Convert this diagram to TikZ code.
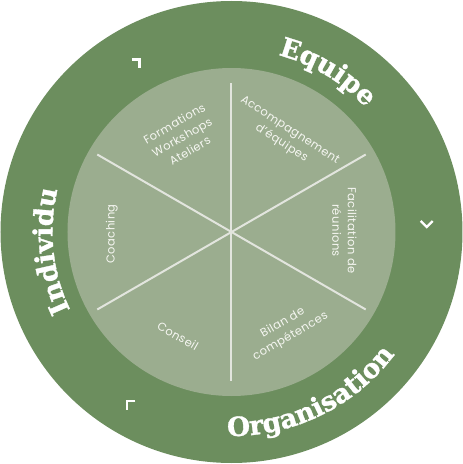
\documentclass[tikz,border=0pt]{standalone}
\usepackage{fontspec}
\usetikzlibrary{decorations.text}
\newfontfamily\labfont{Poppins}[LetterSpace=4]
\newfontfamily\titlefont{DejaVu Serif Bold}[FakeBold=1.2]
\definecolor{ringgreen}{RGB}{108,142,94}
\definecolor{innergreen}{RGB}{155,173,143}
\definecolor{spokecol}{RGB}{226,229,222}
\definecolor{labcol}{RGB}{246,247,242}
\begin{document}
\begin{tikzpicture}[x=1pt,y=1pt,
  spoke/.style={draw=spokecol, line width=2pt},
  chev/.style={draw=white, line width=2.4pt, line cap=butt, line join=miter},
  sectorlab/.style={text=labcol, align=center, font=\labfont\fontsize{11.5}{15.5}\selectfont, inner sep=0pt},
  ringtitle/.style={decorate, decoration={text along path, text align=center,
     text={|\titlefont\fontsize{26.5}{26.5}\selectfont\color{white}|#1}}}
]
\useasboundingbox (-231.5,-232) rectangle (231.5,232);
\fill[ringgreen] (0,0) circle[radius=231];
\fill[innergreen] (0,0) circle[radius=164];
% spokes
\coordinate (c) at (0,0);
\coordinate (s1) at (90:149);
\coordinate (s2) at (30:155);
\coordinate (s3) at (-30:155);
\coordinate (s4) at (-90:149);
\coordinate (s5) at (210:155);
\coordinate (s6) at (150:155);
\draw[spoke] (c) -- (s1);
\draw[spoke] (c) -- (s2);
\draw[spoke] (c) -- (s3);
\draw[spoke] (c) -- (s4);
\draw[spoke] (c) -- (s5);
\draw[spoke] (c) -- (s6);
% ring titles
\path[ringtitle=Equipe] (89:183) arc[start angle=89, end angle=29, radius=183];
\path[ringtitle=Individu] (221:179) arc[start angle=221, end angle=151, radius=179];
\path[ringtitle=Organisation] (-109:204) arc[start angle=-109, end angle=-19, radius=204];
% chevrons
\draw[chev] (-99.5,172.5) -- (-92,172.5) -- (-92,164.5);
\draw[chev] (189.2,11) -- (195.2,5) -- (201.2,11);
\draw[chev] (-96,-169.2) -- (-104.5,-169.2) -- (-104.5,-177.7);
% sector labels
\node[sectorlab, rotate=30] (formations) at (-49.5,95) {Formations\\Workshops\\Ateliers};
\node[sectorlab, rotate=-33] (accomp) at (54,95) {Accompagnement\\d’équipes};
\node[sectorlab, rotate=-90] (facil) at (113,1.5) {Facilitation de\\réunions};
\node[sectorlab, rotate=90] (coach) at (-119.8,-2) {Coaching};
\node[sectorlab, rotate=-30] (conseil) at (-53.5,-104) {Conseil};
\node[sectorlab, rotate=30] (bilan) at (55.2,-97.7) {Bilan de\\compétences};
\end{tikzpicture}
\end{document}
